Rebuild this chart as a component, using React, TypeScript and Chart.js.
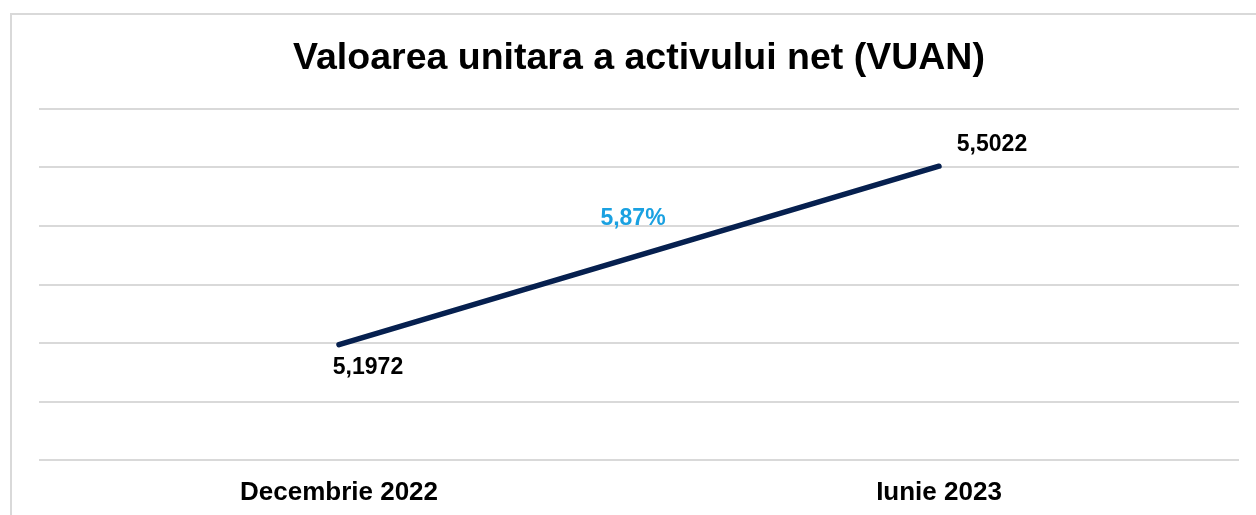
import React, { useEffect, useRef } from "react";
import { Chart, registerables } from "chart.js";

Chart.register(...registerables);

const categories = ["Decembrie 2022", "Iunie 2023"];
const vuanValues = [5.1972, 5.5022];
const yTicks = [5.0, 5.1, 5.2, 5.3, 5.4, 5.5, 5.6];
const titleText = "Valoarea unitara a activului net (VUAN)";
const changeLabelValue = 5.413;

const FONT = "'Liberation Sans', Arial, sans-serif";

const fmt = (v: number, d: number) => v.toFixed(d).replace(".", ",");

const decorPlugin = {
  id: "decor",
  beforeDraw(chart: any) {
    const ctx = chart.ctx;
    ctx.save();
    ctx.fillStyle = "#ffffff";
    ctx.fillRect(0, 0, chart.width, chart.height);
    ctx.strokeStyle = "#d9d9d9";
    ctx.lineWidth = 2;
    ctx.strokeRect(11, 14, chart.width + 40, chart.height + 40);
    ctx.restore();
  },
  afterDatasetsDraw(chart: any) {
    const ctx = chart.ctx;
    const meta = chart.getDatasetMeta(0);
    const pts = meta.data;
    const ys = chart.scales.y;
    ctx.save();
    ctx.font = `bold 23px ${FONT}`;
    ctx.fillStyle = "#000000";
    ctx.textAlign = "center";
    ctx.textBaseline = "middle";
    const offs = [
      [29, 23],
      [53, -22],
    ];
    pts.forEach((p: any, i: number) => {
      ctx.fillText(fmt(vuanValues[i], 4), p.x + offs[i][0], p.y + offs[i][1]);
    });
    const pct = (vuanValues[1] / vuanValues[0] - 1) * 100;
    ctx.fillStyle = "#1aa1e1";
    const mx = (pts[0].x + pts[1].x) / 2 - 6;
    ctx.fillText(fmt(pct, 2) + "%", mx, ys.getPixelForValue(changeLabelValue));
    ctx.restore();
  },
};

export default function App() {
  const ref = useRef<HTMLCanvasElement | null>(null);
  useEffect(() => {
    if (!ref.current) return;
    const chart = new Chart(ref.current, {
      type: "line",
      data: {
        labels: categories,
        datasets: [
          {
            data: vuanValues,
            borderColor: "#06204f",
            borderWidth: 5.5,
            borderCapStyle: "round",
            pointRadius: 0,
            tension: 0,
          },
        ],
      },
      options: {
        animation: false,
        responsive: false,
        maintainAspectRatio: false,
        layout: { padding: { left: 39, right: 17, top: 0, bottom: 0 } },
        plugins: {
          legend: { display: false },
          tooltip: { enabled: false },
          title: {
            display: true,
            text: titleText,
            color: "#000000",
            font: { family: FONT, size: 37.5, weight: "bold" },
            padding: { top: 36, bottom: 28 },
          },
        },
        scales: {
          x: {
            offset: true,
            grid: { display: false },
            border: { display: false },
            ticks: {
              color: "#000000",
              font: { family: FONT, size: 26, weight: "bold" },
              padding: 9,
              maxRotation: 0,
            },
            afterFit: (s: any) => {
              s.height = 55;
            },
          },
          y: {
            min: 5.0,
            max: 5.6,
            afterBuildTicks: (s: any) => {
              s.ticks = yTicks.map((v) => ({ value: v }));
            },
            ticks: { display: false },
            grid: { color: "#d9d9d9", lineWidth: 2, drawTicks: false },
            border: { display: false },
            afterFit: (s: any) => {
              s.width = 0;
            },
          },
        },
      },
      plugins: [decorPlugin],
    });
    return () => chart.destroy();
  }, []);
  return (
    <div style={{ position: "absolute", left: 0, top: 0, width: 1256, height: 515 }}>
      <canvas ref={ref} width={1256} height={515} style={{ display: "block" }} />
    </div>
  );
}
